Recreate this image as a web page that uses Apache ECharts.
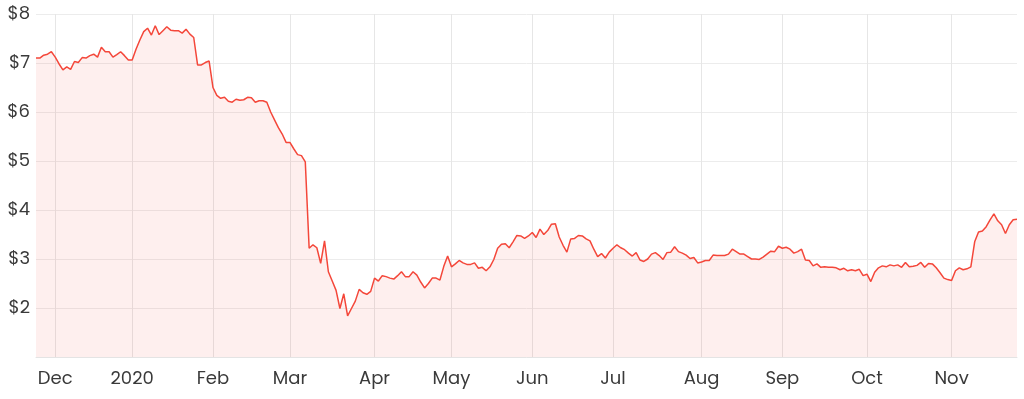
<!DOCTYPE html>
<html>
<head>
<meta charset="utf-8">
<script src="https://cdn.jsdelivr.net/npm/echarts@6/dist/echarts.min.js"></script>
<style>
html,body{margin:0;padding:0;background:#fff;}
#chart{width:1024px;height:399px;}
</style>
</head>
<body>
<div id="chart"></div>
<script>
// First trading day shown and exchange holidays (weekdays with no trading)
const startDate = '2019-11-25';
const holidays = ['2019-12-25','2019-12-26','2020-01-01','2020-01-27','2020-04-10','2020-04-13','2020-06-08'];
const monthNames = ['Jan','Feb','Mar','Apr','May','Jun','Jul','Aug','Sep','Oct','Nov','Dec'];
const yTicks = [2,3,4,5,6,7,8];

// Daily closing price, one per trading day
const prices = [
7.10,7.10,7.16,7.18,7.23,7.12,6.98,6.86,6.92,6.87,
7.03,7.01,7.11,7.10,7.15,7.18,7.12,7.32,7.23,7.23,
7.12,7.17,7.23,7.15,7.06,7.06,7.28,7.47,7.64,7.71,
7.57,7.76,7.58,7.66,7.74,7.67,7.66,7.66,7.61,7.69,
7.59,7.52,6.96,6.96,7.01,7.04,6.50,6.34,6.28,6.30,
6.22,6.20,6.26,6.24,6.25,6.30,6.29,6.20,6.23,6.23,
6.20,6.00,5.84,5.68,5.55,5.38,5.38,5.25,5.13,5.11,
4.98,3.22,3.29,3.23,2.91,3.37,2.74,2.55,2.36,1.99,
2.29,1.84,1.99,2.14,2.38,2.31,2.28,2.34,2.61,2.55,
2.66,2.64,2.61,2.59,2.66,2.74,2.64,2.64,2.74,2.67,
2.53,2.41,2.50,2.61,2.61,2.57,2.85,3.06,2.84,2.90,
2.97,2.92,2.89,2.89,2.92,2.81,2.83,2.76,2.84,2.99,
3.22,3.30,3.31,3.23,3.35,3.48,3.47,3.42,3.47,3.54,
3.44,3.61,3.50,3.58,3.71,3.72,3.45,3.28,3.14,3.41,
3.42,3.48,3.47,3.41,3.37,3.20,3.05,3.11,3.02,3.14,
3.22,3.29,3.23,3.19,3.12,3.06,3.13,2.98,2.95,3.00,
3.10,3.13,3.07,2.99,3.13,3.14,3.25,3.15,3.12,3.08,
3.01,3.03,2.92,2.94,2.97,2.97,3.08,3.07,3.07,3.07,
3.10,3.20,3.15,3.10,3.10,3.05,3.00,3.00,2.99,3.04,
3.10,3.16,3.15,3.26,3.22,3.24,3.20,3.12,3.15,3.20,
2.98,2.97,2.86,2.90,2.83,2.84,2.83,2.83,2.82,2.78,
2.81,2.76,2.78,2.76,2.79,2.66,2.69,2.54,2.73,2.82,
2.86,2.84,2.88,2.86,2.88,2.83,2.93,2.84,2.85,2.87,
2.93,2.83,2.91,2.90,2.82,2.72,2.61,2.58,2.56,2.76,
2.82,2.78,2.80,2.84,3.35,3.55,3.57,3.66,3.80,3.92,
3.78,3.70,3.52,3.70,3.80,3.81
];

function pad(n){return n<10?'0'+n:''+n;}
function fmt(d){return d.getUTCFullYear()+'-'+pad(d.getUTCMonth()+1)+'-'+pad(d.getUTCDate());}
const dates = [];
{
  const d = new Date(startDate+'T00:00:00Z');
  while (dates.length < prices.length) {
    const wd = d.getUTCDay();
    const s = fmt(d);
    if (wd !== 0 && wd !== 6 && holidays.indexOf(s) < 0) dates.push(s);
    d.setUTCDate(d.getUTCDate()+1);
  }
}
function isMonthStart(i){
  if (i <= 0) return false;
  return dates[i].slice(5,7) !== dates[i-1].slice(5,7);
}

const chart = echarts.init(document.getElementById('chart'));
const font = "Poppins, 'Open Sans', 'Noto Sans', sans-serif";
chart.setOption({
  animation: false,
  grid: {left: 36, right: 7, top: 14, bottom: 42, containLabel: false},
  xAxis: {
    type: 'category',
    data: dates,
    boundaryGap: false,
    axisLine: {show: true, lineStyle: {color: '#e4e4e4', width: 1}},
    axisTick: {show: false},
    axisLabel: {
      interval: function(i){ return isMonthStart(i); },
      formatter: function(v){
        const m = parseInt(v.slice(5,7),10)-1;
        return m === 0 ? v.slice(0,4) : monthNames[m];
      },
      color: '#3a3a3a',
      fontFamily: font,
      fontSize: 18,
      margin: 13
    },
    splitLine: {
      show: true,
      interval: function(i){ return isMonthStart(i); },
      lineStyle: {color: '#e6e6e6', width: 1}
    }
  },
  yAxis: {
    type: 'value',
    min: 1, max: 8, interval: 1,
    axisLine: {show: false},
    axisTick: {show: false},
    axisLabel: {
      formatter: function(v){ return yTicks.indexOf(v) >= 0 ? '$' + v : ''; },
      color: '#3a3a3a',
      fontFamily: font,
      fontSize: 18,
      margin: 6
    },
    splitLine: {show: true, lineStyle: {color: '#ececec', width: 1}}
  },
  series: [{
    type: 'line',
    data: prices,
    showSymbol: false,
    symbol: 'none',
    lineStyle: {color: '#f4473a', width: 1.5},
    areaStyle: {color: 'rgba(244,71,58,0.12)'},
    itemStyle: {color: '#f4473a'}
  }]
});
</script>
</body>
</html>
